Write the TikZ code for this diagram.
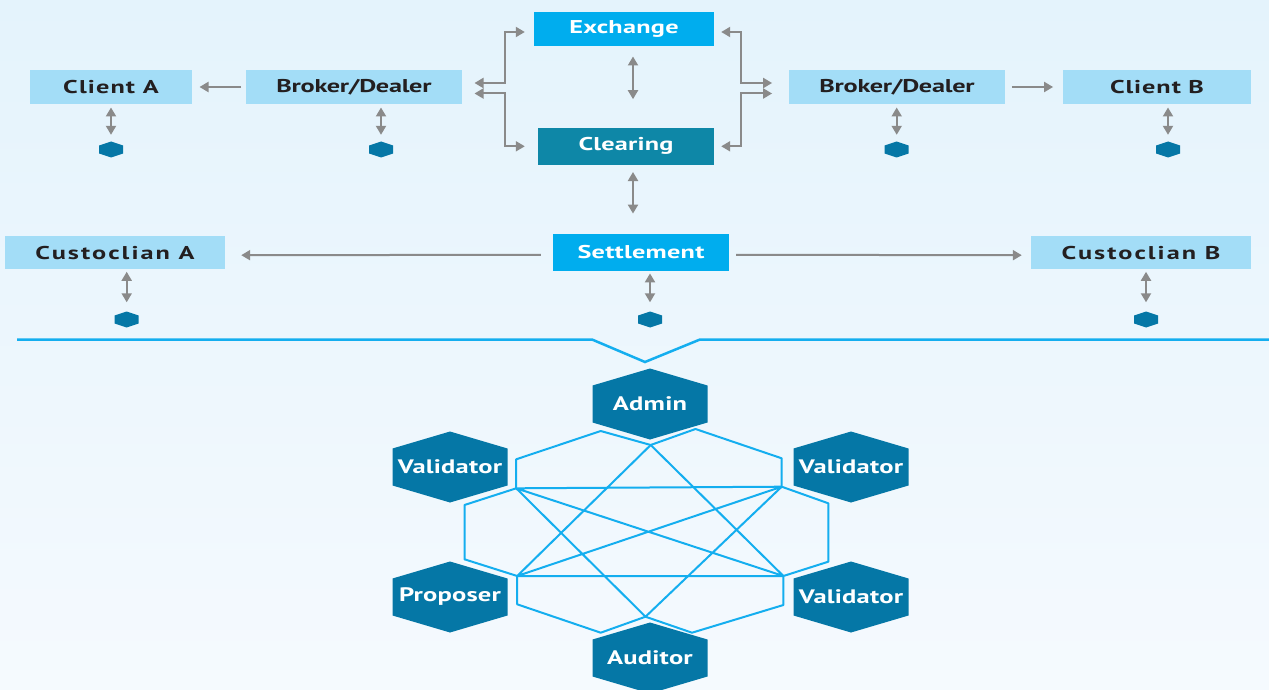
\documentclass[tikz,border=0pt]{standalone}
\usepackage{fontspec}
\setmainfont{PT Sans}
\newfontfamily\boxfont{PT Sans Bold}[FakeStretch=1.42, LetterSpace=2]
\newfontfamily\hexfont{PT Sans Bold}[FakeStretch=1.36, LetterSpace=1]
\usetikzlibrary{arrows.meta,calc}

\definecolor{bgtop}{HTML}{E4F3FC}
\definecolor{bgbot}{HTML}{F5FAFE}
\definecolor{lightbox}{HTML}{A3DDF7}
\definecolor{cyanbox}{HTML}{00ADEE}
\definecolor{tealbox}{HTML}{0E87A7}
\definecolor{hexblue}{HTML}{0577A6}
\definecolor{netline}{HTML}{14AEEF}
\definecolor{arrowgray}{HTML}{8A8A8A}
\definecolor{darktext}{HTML}{231F20}

% hexagon with pointed top and bottom: centre x, centre y, half width, half side, half height
\newcommand\hexoutline[5]{(#1,{#2-#5}) -- ({#1+#3},{#2-#4}) -- ({#1+#3},{#2+#4}) -- (#1,{#2+#5}) -- ({#1-#3},{#2+#4}) -- ({#1-#3},{#2-#4}) -- cycle}
% tracking for a single label
\newcommand\tracked[2]{{\addfontfeature{LetterSpace=#1}#2}}

\tikzset{
  box/.style={inner sep=0pt, font=\boxfont\fontsize{18.5}{20}\selectfont},
  paleblock/.style={box, fill=lightbox, text=darktext},
  cyanblock/.style={box, fill=cyanbox, text=white},
  tealblock/.style={box, fill=tealbox, text=white},
  hexlabel/.style={inner sep=0pt, text=white, font=\hexfont\fontsize{19.5}{21}\selectfont},
  hexspot/.style={inner sep=0pt, minimum width=24pt, minimum height=16pt},
  gtip/.tip={Triangle[length=9pt,width=10pt]},
  onearrow/.style={draw=arrowgray, line width=2pt, -gtip},
  twoarrow/.style={draw=arrowgray, line width=2pt, gtip-gtip},
  net/.style={draw=netline, line width=2pt, line join=round},
}

\begin{document}
\begin{tikzpicture}[x=1pt,y=-1pt]
\useasboundingbox (0,0) rectangle (1269,690);
\shade[top color=bgtop, bottom color=bgbot] (0,0) rectangle (1269,690);

% ---- market participants ----
\node[paleblock, minimum width=162pt, minimum height=34pt] (clA) at (111,87) {\tracked{6}{Client A}};
\node[paleblock, minimum width=216pt, minimum height=34pt] (bdL) at (354,87) {\tracked{-1.5}{Broker/Dealer}};
\node[paleblock, minimum width=216pt, minimum height=34pt] (bdR) at (897,87) {\tracked{-1.5}{Broker/Dealer}};
\node[paleblock, minimum width=188pt, minimum height=34pt] (clB) at (1157,87) {\tracked{5}{Client B}};
\node[cyanblock, minimum width=180pt, minimum height=34pt] (ex) at (624,29) {\tracked{1.5}{Exchange}};
\node[tealblock, minimum width=176pt, minimum height=37pt] (cl) at (626,146.3) {\tracked{1}{Clearing}};
\node[paleblock, minimum width=220pt, minimum height=33pt] (cuA) at (115,252.7) {\tracked{11}{Custoclian A}};
\node[cyanblock, minimum width=176pt, minimum height=37pt] (st) at (641,252.3) {\tracked{1.5}{Settlement}};
\node[paleblock, minimum width=220pt, minimum height=33pt] (cuB) at (1141,252.7) {\tracked{11}{Custoclian B}};

% ---- ledger spots under the participants ----
\node[hexspot] (hclA) at (111,149.5) {};
\node[hexspot] (hbdL) at (381,149.5) {};
\node[hexspot] (hbdR) at (896.7,149.5) {};
\node[hexspot] (hclB) at (1168,149.5) {};
\node[hexspot] (hcuA) at (126.7,319.5) {};
\node[hexspot] (hst) at (650,319.5) {};
\node[hexspot] (hcuB) at (1146,319.5) {};
\foreach \hx/\hy in {111/149.5, 381/149.5, 896.7/149.5, 1168/149.5, 126.7/319.5, 650/319.5, 1146/319.5}
  \fill[hexblue] \hexoutline{\hx}{\hy}{12}{4}{8};

\foreach \b/\h in {clA/hclA, bdL/hbdL, bdR/hbdR, clB/hclB}
  \draw[twoarrow, shorten <=3.3pt, shorten >=6.5pt] (\h |- \b.south) -- (\h.north);
\foreach \b/\h in {cuA/hcuA, st/hst, cuB/hcuB}
  \draw[twoarrow, shorten <=2.4pt, shorten >=9pt] (\h |- \b.south) -- (\h.north);

% ---- order flow ----
\draw[onearrow, shorten <=4.7pt, shorten >=7.3pt] (bdL.west) -- (clA.east);
\draw[onearrow, shorten <=6.7pt, shorten >=9.7pt] (bdR.east) -- (clB.west);
\draw[onearrow, shorten <=12pt, shorten >=16pt] ([yshift=-2.5pt]st.west) -- ([yshift=-2.5pt]cuA.east);
\draw[onearrow, shorten <=7pt, shorten >=9pt] ([yshift=-2.5pt]st.east) -- ([yshift=-2.5pt]cuB.west);

\coordinate (vx) at (633,0);
\draw[twoarrow, shorten <=10.3pt, shorten >=28.4pt] (ex.south -| vx) -- (cl.north -| vx);
\draw[twoarrow, shorten <=7pt, shorten >=20pt] (cl.south -| vx) -- (st.north -| vx);

% brackets between the brokers and exchange / clearing
\coordinate (bxL) at (505,0);
\coordinate (bxR) at (741,0);
\coordinate (bdLu) at ([yshift=4pt]bdL.east);
\coordinate (bdLd) at ([yshift=-6.5pt]bdL.east);
\coordinate (bdRu) at ([yshift=4pt]bdR.west);
\coordinate (bdRd) at ([yshift=-6.5pt]bdR.west);
\coordinate (exW) at ([yshift=-3pt]ex.west);
\coordinate (exE) at ([yshift=-3pt]ex.east);
\draw[twoarrow, shorten <=12.3pt, shorten >=9pt] (bdLu) -- (bdLu -| bxL) |- (exW);
\draw[twoarrow, shorten <=12.3pt, shorten >=13pt] (bdLd) -- (bdLd -| bxL) |- (cl.west);
\draw[twoarrow, shorten <=16.7pt, shorten >=7pt] (bdRu) -- (bdRu -| bxR) |- (exE);
\draw[twoarrow, shorten <=16.7pt, shorten >=7pt] (bdRd) -- (bdRd -| bxR) |- (cl.east);

% ---- divider with notch ----
\draw[net, line width=2.5pt, line join=miter] (17,339.5) -- (592,339.5) -- (645,362) -- (700,339.5) -- (1269,339.5);

% ---- permissioned network ----
\coordinate (T) at (650.7,445);
\coordinate (P1) at (600.7,431);
\coordinate (P2) at (516.2,459.3);
\coordinate (A) at (516.2,488.3);
\coordinate (P3) at (464.5,505);
\coordinate (P4) at (464.5,559.3);
\coordinate (C) at (517.2,576);
\coordinate (P5) at (517.2,604.3);
\coordinate (P6) at (600.7,632.7);
\coordinate (Bo) at (645.5,616.7);
\coordinate (P7) at (692,632.7);
\coordinate (P8) at (783.4,605);
\coordinate (D) at (783.4,576);
\coordinate (P9) at (828.3,561.7);
\coordinate (P10) at (828.3,503.3);
\coordinate (B) at (781.7,486.7);
\coordinate (P11) at (781.7,458.3);
\coordinate (P12) at (695.5,429);
\draw[net] (T) -- (P1) -- (P2) -- (A) -- (P3) -- (P4) -- (C) -- (P5) -- (P6) -- (Bo)
  -- (P7) -- (P8) -- (D) -- (P9) -- (P10) -- (B) -- (P11) -- (P12) -- cycle;
\draw[net] (A) -- (B) (C) -- (D) (T) -- (C) (T) -- (D) (Bo) -- (A) (Bo) -- (B) (A) -- (D) (B) -- (C);

\foreach \hx/\hy in {650/404, 450/467, 851/467, 450/597, 851/597, 650/658}
  \fill[hexblue] \hexoutline{\hx}{\hy}{57.5}{18.5}{35.5};
\node[hexlabel] (adm) at (650,404) {Admin};
\node[hexlabel] (vUL) at (450,467) {Validator};
\node[hexlabel] (vUR) at (851,467) {Validator};
\node[hexlabel] (prp) at (450,597) {Proposer};
\node[hexlabel] (vLR) at (851,597) {Validator};
\node[hexlabel] (aud) at (650,658) {Auditor};
\end{tikzpicture}
\end{document}
